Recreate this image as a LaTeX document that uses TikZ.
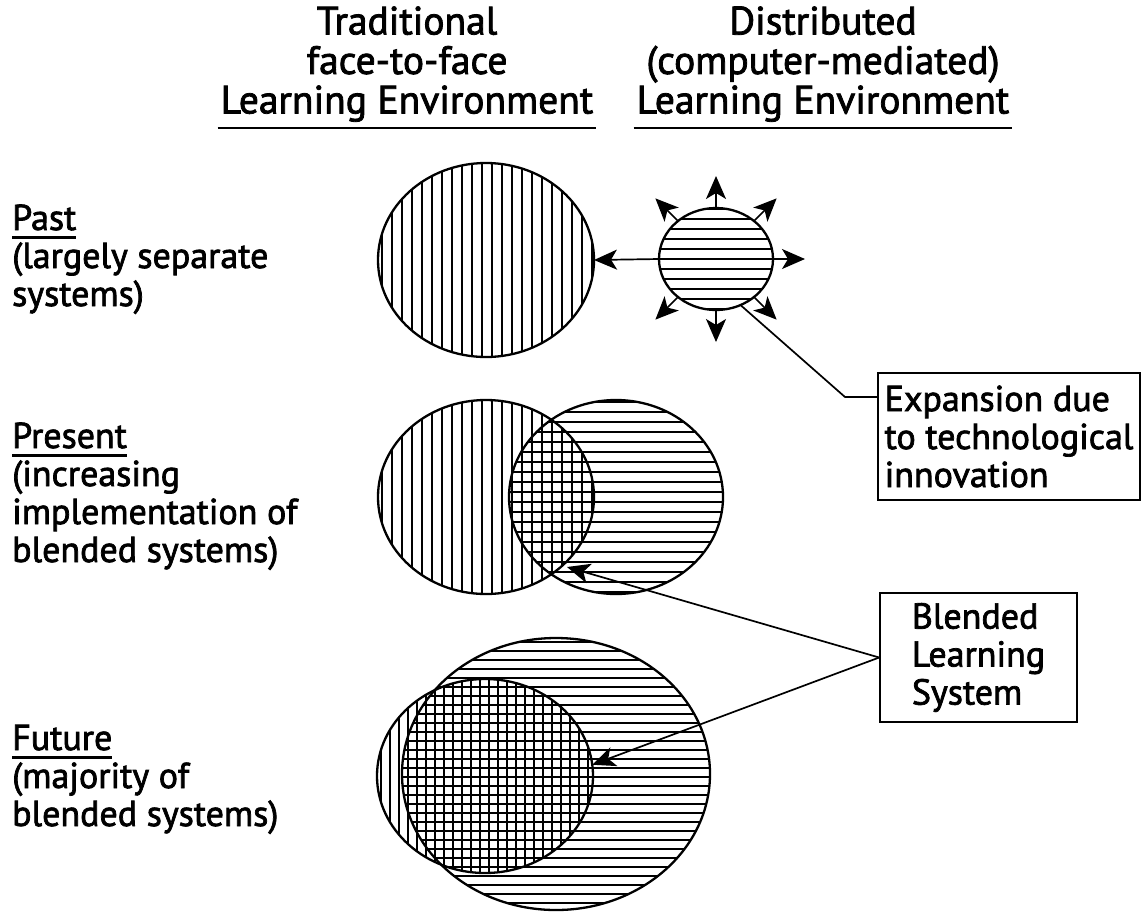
\documentclass[tikz,border=0pt]{standalone}
\usepackage{fontspec}
\setmainfont{PT Sans}
\newfontfamily\figfont[FakeBold=2]{PT Sans}
\usetikzlibrary{arrows.meta,shapes.geometric,calc}

\newcommand{\eraname}[1]{\setbox0=\hbox{#1}\rlap{\rule[-8.5pt]{\wd0}{2.4pt}}#1}

\tikzset{
  ring/.style={draw, ellipse, line width=2.3pt, inner sep=0pt, outer sep=0pt},
  hatch/.style={line width=2.3pt},
  bigtext/.style={font=\figfont\fontsize{36}{38}\selectfont, inner sep=0pt},
  headtext/.style={font=\figfont\fontsize{39.5}{39.5}\selectfont, align=center, anchor=south, inner xsep=3pt, inner ysep=6pt},
  rowtext/.style={bigtext, align=left, anchor=base west},
  callout/.style={draw, line width=1.7pt, bigtext, align=left},
  lead/.style={line width=1.7pt}
}

\begin{document}
\begin{tikzpicture}[x=1pt, y=-1pt, >={Stealth[length=23pt,width=20pt,inset=6pt]}]
\fill[white] (0,0) rectangle (1145,914);
\useasboundingbox (0,0) rectangle (1145,914);

% column headings
\node[headtext] (hdrF2F) at (407,128) {Traditional\\face-to-face\\Learning Environment};
\node[headtext] (hdrDist) at (823,128) {Distributed\\(computer-mediated)\\Learning Environment};
\draw[line width=2.2pt] (hdrF2F.south west) -- (hdrF2F.south east);
\draw[line width=2.2pt] (hdrDist.south west) -- (hdrDist.south east);

% row labels (anchored on the last line)
\node[rowtext] (past) at (12,306) {\eraname{Past}\\(largely separate\\systems)};
\node[rowtext] (present) at (12,562) {\eraname{Present}\\(increasing\\implementation of\\blended systems)};
\node[rowtext] (future) at (12,826) {\eraname{Future}\\(majority of\\blended systems)};

% hatching
\begin{scope}
  \clip (486,260) ellipse [x radius=108, y radius=97];
  \foreach \x in {382,392,...,592} \draw[hatch] (\x,160) -- (\x,360);
\end{scope}
\begin{scope}
  \clip (716,259) ellipse [x radius=57, y radius=51];
  \foreach \y in {209,219,...,309} \draw[hatch] (655,\y) -- (777,\y);
\end{scope}
\begin{scope}
  \clip (486,497) ellipse [x radius=108, y radius=97];
  \foreach \x in {382,392,...,592} \draw[hatch] (\x,398) -- (\x,596);
\end{scope}
\begin{scope}
  \clip (616,497) ellipse [x radius=107, y radius=97];
  \foreach \y in {402,412,...,592} \draw[hatch] (505,\y) -- (727,\y);
\end{scope}
\begin{scope}
  \clip (485,776) ellipse [x radius=108, y radius=97];
  \foreach \x in {381,390,...,589} \draw[hatch] (\x,677) -- (\x,875);
\end{scope}
\begin{scope}
  \clip (556,774) ellipse [x radius=154, y radius=136];
  \foreach \y in {642,651,...,906} \draw[hatch] (400,\y) -- (712,\y);
\end{scope}

% outlines
\node[ring, minimum width=216pt, minimum height=194pt] (pastF2F) at (486,260) {};
\node[ring, minimum width=114pt, minimum height=102pt] (pastDist) at (716,259) {};
\node[ring, minimum width=216pt, minimum height=194pt] (presF2F) at (486,497) {};
\node[ring, minimum width=214pt, minimum height=194pt] (presDist) at (616,497) {};
\node[ring, minimum width=216pt, minimum height=194pt] (futF2F) at (485,776) {};
\node[ring, minimum width=308pt, minimum height=272pt] (futDist) at (556,774) {};

% expansion arrows
\draw[lead,->] (pastDist.west) -- (pastF2F.east);
\foreach \a in {0,45,90,135,225,270,315}
  \draw[lead,->] (pastDist.\a) -- ($(pastDist.\a)!-32pt!(pastDist.center)$);

% call-out boxes
\node[callout, minimum width=262pt, minimum height=127pt] (expBox) at (1009,436.5) {Expansion due\\to technological\\innovation};
\node[callout, minimum width=197pt, minimum height=129pt] (blendBox) at (978.5,657.5) {Blended\\Learning\\System};

\coordinate (expBend) at (845,397);
\draw[lead] (pastDist.-62) -- (expBend) -- (expBend -| expBox.west);

\coordinate (presBlend) at (567,567);
\draw[lead,->] (blendBox.west) -- (presBlend);
\draw[lead,->] (blendBox.west) -- (futF2F.6);
\end{tikzpicture}
\end{document}
